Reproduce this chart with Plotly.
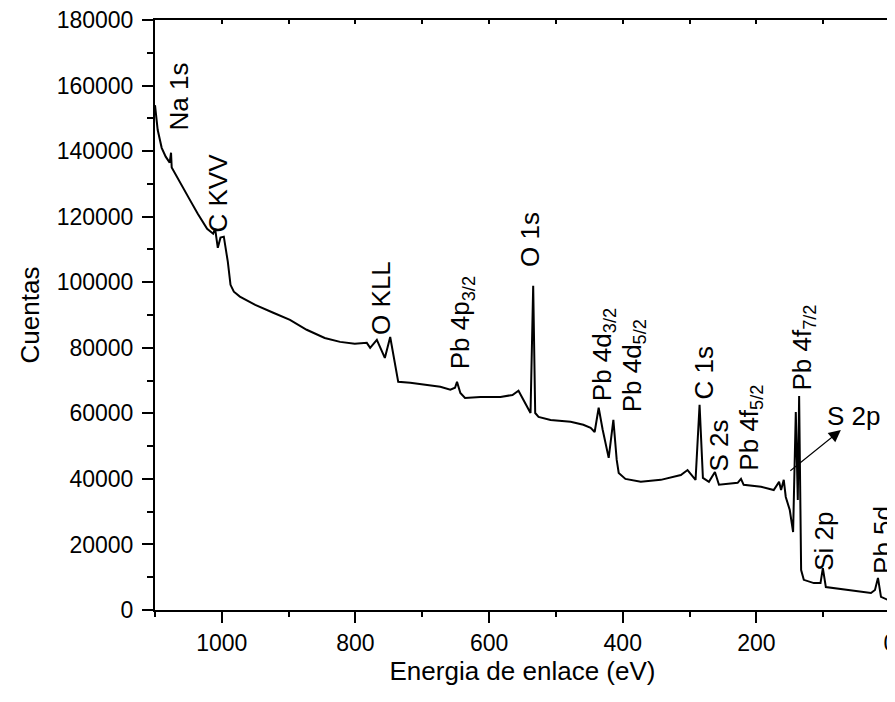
import plotly.graph_objects as go

# Binding energy (eV) and counts
energia = [1100, 1096, 1090, 1084, 1078, 1076, 1075, 1067, 1058, 1048, 1036, 1022, 1013, 1010,
           1006, 1002, 997, 991, 987, 982, 973, 950, 923, 898, 873, 846, 823, 801, 783, 778,
           768, 756, 748, 741, 736, 718, 696, 673, 658, 651, 648, 643, 636, 613, 583, 565,
           556, 547, 538, 534, 531, 526, 508, 478, 459, 448, 442, 436, 430, 421, 414, 409,
           406, 396, 373, 343, 313, 303, 294, 291, 285, 280, 271, 262, 256, 238, 228, 223,
           219, 193, 174, 166, 163, 159, 156, 150, 145, 141, 138, 136, 133, 129, 114, 104,
           100.5, 96, 58.5, 36, 28.5, 22.5, 18, 13.5, 4.5, 0]
cuentas = [154000, 146500, 141000, 138300, 136500, 139500, 135000, 132200, 128800, 125200,
           120900, 116300, 114800, 116300, 110500, 113600, 113900, 106200, 99200, 97100,
           95600, 93100, 90700, 88500, 85500, 83000, 81800, 81200, 81500, 80000,
           82400, 76900, 83300, 74800, 69600, 69300, 68700, 68100, 67200, 67800,
           69600, 66200, 64700, 65000, 65000, 65600, 66900, 63500, 60100, 98900,
           60100, 58900, 58000, 57400, 56500, 55600, 54300, 61700, 55000, 46400,
           58000, 45800, 41800, 40000, 39100, 39700, 41200, 42700, 40300, 39700,
           62600, 40300, 39100, 42100, 38200, 38500, 38800, 40000, 38200, 37600,
           36600, 39100, 36600, 39700, 34500, 30500, 23800, 60400, 33600, 65300,
           12200, 9200, 8200, 8200, 12800, 7000, 6100, 5500, 5200, 6100,
           9800, 4000, 3100, 2800]

# Peak labels: text, energy, counts, rotation
etiquetas = ["Na 1s", "C KVV", "O KLL", "Pb 4p<sub>3/2</sub>", "O 1s",
             "Pb 4d<sub>3/2</sub>", "Pb 4d<sub>5/2</sub>", "C 1s", "S 2s",
             "Pb 4f<sub>5/2</sub>", "Pb 4f<sub>7/2</sub>", "S 2p", "Si 2p", "Pb 5d"]
etiq_x = [1064.5, 1006, 761.6, 640, 539.7, 429, 383.8, 278.9, 256.4, 208.4, 129, 54, 99, 10.5]
etiq_y = [156600, 127300, 95250, 87600, 113000, 77850, 74500, 72350, 50070, 55560, 80000,
          59230, 21070, 21370]
etiq_ang = [-90, -90, -90, -90, -90, -90, -90, -90, -90, -90, -90, 0, -90, -90]

# Arrow from the S 2p region to its label
flecha_cola = (151.4, 42100)
flecha_punta = (73.5, 54900)

FONT = "Arial, Liberation Sans, sans-serif"

fig = go.Figure()
fig.add_trace(go.Scatter(x=energia, y=cuentas, mode="lines",
                         line=dict(color="black", width=2),
                         showlegend=False, hoverinfo="x+y"))
# invisible copy on the top (mirror) axis so it gets drawn
fig.add_trace(go.Scatter(x=energia, y=cuentas, mode="lines", xaxis="x2",
                         line=dict(color="rgba(0,0,0,0)", width=0),
                         showlegend=False, hoverinfo="skip"))

annotations = []
for t, x, y, a in zip(etiquetas, etiq_x, etiq_y, etiq_ang):
    annotations.append(dict(x=x, y=y, xref="x", yref="y", text=t, showarrow=False,
                            textangle=a, xanchor="center", yanchor="middle",
                            font=dict(family=FONT, size=26, color="black")))
annotations.append(dict(x=flecha_punta[0], y=flecha_punta[1], ax=flecha_cola[0], ay=flecha_cola[1],
                        xref="x", yref="y", axref="x", ayref="y", text="", showarrow=True,
                        arrowhead=2, arrowsize=2.2, arrowwidth=1.1, arrowcolor="black"))

fig.update_layout(
    width=895, height=702,
    margin=dict(l=147, r=13, t=12, b=100, autoexpand=False),
    paper_bgcolor="white", plot_bgcolor="white",
    font=dict(family=FONT, color="black"),
    annotations=annotations,
    xaxis=dict(range=[1100, 0], tick0=0, dtick=200, ticks="outside", ticklen=11, tickwidth=2,
               tickcolor="black", showline=True, linewidth=2, linecolor="black",
               showgrid=False, zeroline=False, ticklabeloverflow="allow", automargin=False,
               tickfont=dict(family=FONT, size=23, color="black"),
               minor=dict(dtick=100, tick0=0, ticks="outside", ticklen=5, tickwidth=2,
                          tickcolor="black", showgrid=False),
               title=dict(text="Energia de enlace (eV)", standoff=2,
                          font=dict(family=FONT, size=26, color="black"))),
    xaxis2=dict(range=[1100, 0], overlaying="x", side="top", tick0=0, dtick=100,
                ticks="inside", ticklen=4, tickwidth=2, tickcolor="black", automargin=False,
                showticklabels=False, showline=True, linewidth=2, linecolor="black",
                showgrid=False, zeroline=False),
    yaxis=dict(range=[0, 180000], tick0=0, dtick=20000, tickformat="d", ticks="outside",
               ticklen=11, tickwidth=2, tickcolor="black", showline=True, linewidth=2,
               linecolor="black", mirror=True, showgrid=False, zeroline=False,
               ticklabelstandoff=4, ticklabeloverflow="allow", automargin=False,
               tickfont=dict(family=FONT, size=23, color="black"),
               minor=dict(dtick=10000, tick0=0, ticks="outside", ticklen=6, tickwidth=2,
                          tickcolor="black", showgrid=False),
               title=dict(text="Cuentas", standoff=10,
                          font=dict(family=FONT, size=26, color="black"))),
)

fig.write_html("out.html")
